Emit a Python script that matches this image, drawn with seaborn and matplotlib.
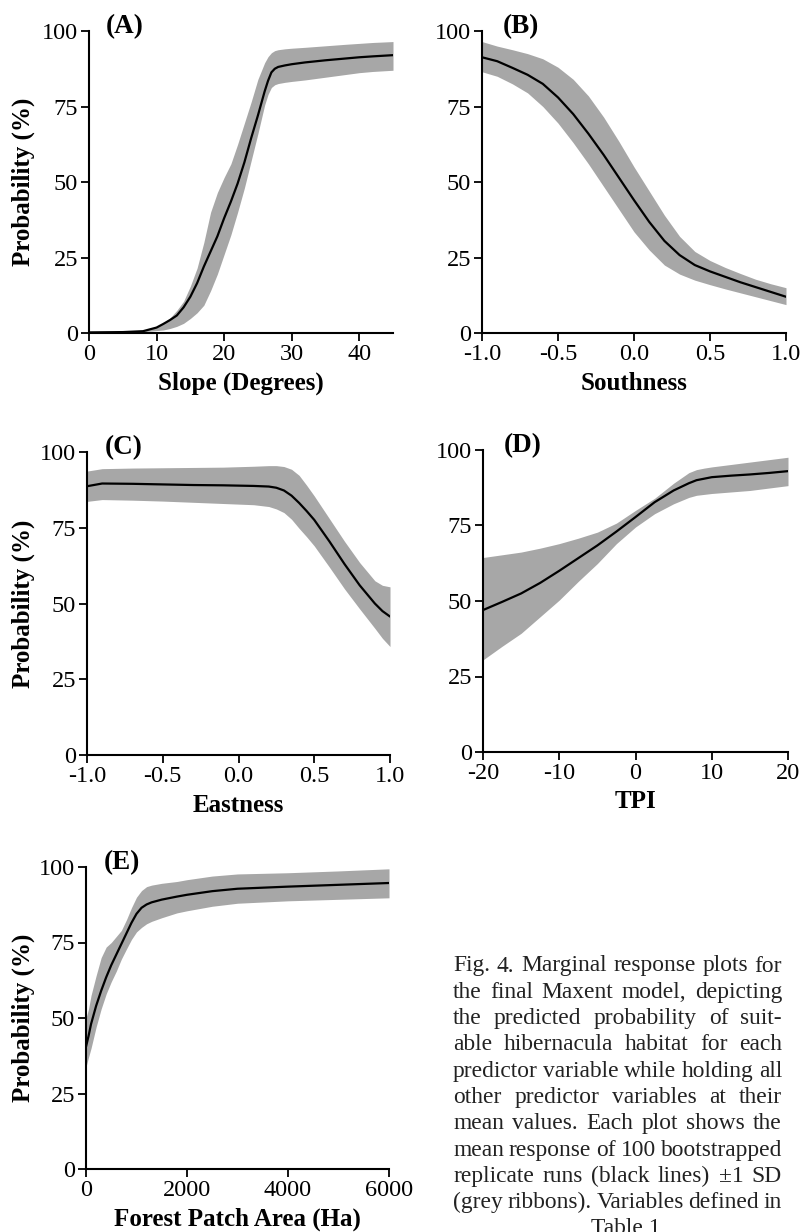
import numpy as np
import pandas as pd
import matplotlib
matplotlib.use("Agg")
import matplotlib.pyplot as plt
import seaborn as sns
from matplotlib.font_manager import FontProperties

# ---------------- data ----------------
slope_x = [0, 5, 8, 10, 11, 12, 13, 14, 15, 16, 17, 18, 19, 20, 21, 22, 23, 24, 25, 26, 26.5, 27, 27.5, 28, 29, 30, 32, 35, 38, 40, 42, 45]
slope_mean = [0.2, 0.3, 0.6, 1.8, 3, 4.3, 5.8, 8.5, 12, 16.5, 22, 27, 32, 38, 43.5, 49.5, 56.5, 64.5, 72, 80, 83.5, 86.3, 87.5, 88.1, 88.6, 89, 89.6, 90.3, 90.9, 91.3, 91.6, 92]
slope_upper = [0.3, 0.5, 0.8, 2.2, 3.3, 5, 7.5, 10.5, 15.5, 21.5, 30, 40, 46.5, 51.5, 56, 62.5, 69.5, 76.5, 84, 89.5, 91.5, 92.8, 93.5, 93.8, 94.1, 94.3, 94.6, 95.1, 95.6, 95.9, 96.2, 96.5]
slope_lower = [0.1, 0.2, 0.4, 0.8, 1, 1.5, 2.2, 3.2, 4.8, 6.7, 9.2, 14, 19.5, 26, 32.5, 40, 48, 57, 66, 75.5, 79, 81.3, 82.2, 82.6, 83, 83.3, 83.8, 84.7, 85.6, 86.2, 86.6, 87]

south_x = [-1.0, -0.9, -0.8, -0.7, -0.6, -0.5, -0.4, -0.3, -0.2, -0.1, 0.0, 0.1, 0.2, 0.3, 0.4, 0.5, 0.6, 0.7, 0.8, 0.9, 1.0]
south_mean = [91.3, 90, 87.8, 85.5, 82.5, 78, 72.5, 66, 59, 51.5, 44, 36.8, 30.5, 25.8, 22.5, 20.4, 18.6, 16.8, 15.2, 13.6, 12]
south_upper = [96.5, 95, 93.8, 92.5, 90.8, 88, 84, 78.5, 71.5, 63.5, 55, 47, 39, 32, 27, 24, 21.7, 19.7, 17.8, 16.3, 15]
south_lower = [86.5, 85, 82.5, 79.5, 75, 69.5, 63, 56, 48.5, 41, 33.5, 27.5, 22.5, 19.5, 17.5, 16, 14.6, 13.3, 12, 10.7, 9.4]

east_x = [-1.0, -0.9, -0.7, -0.5, -0.3, -0.1, 0.1, 0.2, 0.25, 0.3, 0.35, 0.4, 0.45, 0.5, 0.6, 0.7, 0.8, 0.9, 0.95, 1.0]
east_mean = [88.7, 89.6, 89.5, 89.3, 89.1, 89, 88.8, 88.6, 88.2, 87.3, 85.6, 83.2, 80.5, 77.6, 70.5, 63, 56, 50, 47.5, 45.7]
east_upper = [93.7, 94.5, 94.7, 94.8, 94.9, 95, 95.3, 95.5, 95.5, 95.2, 94.3, 92.3, 89, 85.5, 78, 70.5, 63.5, 57.5, 56, 55.5]
east_lower = [83.7, 84.3, 84.1, 83.8, 83.4, 83, 82.6, 82, 81.2, 80, 77.8, 74.8, 72, 69, 62, 54.8, 48.2, 41.8, 38.5, 35.8]

tpi_x = [-20, -17.5, -15, -12.5, -10, -7.5, -5, -2.5, 0, 2.5, 5, 7, 8, 9, 10, 12.5, 15, 17.5, 20]
tpi_mean = [47, 49.7, 52.5, 56, 60, 64.2, 68.4, 73, 77.8, 82.7, 86.6, 89, 90, 90.5, 91, 91.5, 91.9, 92.4, 93]
tpi_upper = [64.4, 65.3, 66.2, 67.5, 69, 70.8, 72.8, 75.8, 80, 84, 89, 92.5, 93.5, 94, 94.4, 95.2, 96, 96.8, 97.6]
tpi_lower = [30.5, 35, 39.3, 44.8, 50.3, 56.5, 62.4, 69, 74.5, 78.9, 82.2, 84.3, 85, 85.3, 85.6, 86.1, 86.6, 87.4, 88.2]

area_x = [0, 50, 100, 200, 300, 400, 500, 600, 700, 800, 900, 1000, 1100, 1200, 1300, 1500, 1800, 2000, 2500, 3000, 4000, 5000, 6000]
area_mean = [40.5, 44, 48, 54, 59, 63.5, 67.5, 71, 74.5, 78, 81.5, 84.5, 86.5, 87.6, 88.3, 89.2, 90.2, 90.8, 92, 92.8, 93.5, 94.1, 94.7]
area_upper = [50, 53, 57.5, 64, 70, 73.5, 75, 77, 79, 82.5, 86.5, 90, 92.2, 93.5, 94, 94.6, 95.2, 95.8, 97, 97.7, 98.1, 98.7, 99.4]
area_lower = [33.8, 37, 40, 47, 53, 58, 62, 65.5, 69.5, 72.8, 76, 78.5, 80, 81.2, 82, 83.2, 84.8, 85.5, 87, 88, 88.8, 89.3, 89.8]

panel_letters = ["(A)", "(B)", "(C)", "(D)", "(E)"]
x_labels = ["Slope (Degrees)", "Southness", "Eastness", "TPI", "Forest Patch Area (Ha)"]
y_label = "Probability (%)"
y_ticks = [0, 25, 50, 75, 100]
x_ticks = [[0, 10, 20, 30, 40], [-1.0, -0.5, 0.0, 0.5, 1.0], [-1.0, -0.5, 0.0, 0.5, 1.0],
           [-20, -10, 0, 10, 20], [0, 2000, 4000, 6000]]
x_ticklabels = [["0", "10", "20", "30", "40"], ["-1.0", "-0.5", "0.0", "0.5", "1.0"],
                ["-1.0", "-0.5", "0.0", "0.5", "1.0"], ["-20", "-10", "0", "10", "20"],
                ["0", "2000", "4000", "6000"]]
x_limits = [(0, 45), (-1, 1), (-1, 1), (-20, 20), (0, 6000)]

caption_lines = [
    "Fig. 4. Marginal response plots for",
    "the final Maxent model, depicting",
    "the predicted probability of suit-",
    "able hibernacula habitat for each",
    "predictor variable while holding all",
    "other predictor variables at their",
    "mean values. Each plot shows the",
    "mean response of 100 bootstrapped",
    "replicate runs (black lines) \u00b11 SD",
    "(grey ribbons). Variables defined in",
    "Table 1",
]

# ---------------- style ----------------
sns.set_style("ticks")
plt.rcParams["font.family"] = ["Liberation Serif", "DejaVu Serif"]
plt.rcParams["axes.unicode_minus"] = False

W, H = 801, 1232
fig = plt.figure(figsize=(W / 100, H / 100), dpi=100)

# axes boxes in pixel coords: left, right, top, bottom
boxes = [(89, 393, 31, 333), (482, 786, 31, 333), (87, 390, 452, 755),
         (483, 788, 450, 752), (86, 389, 867, 1169)]
datasets = [
    (slope_x, slope_mean, slope_lower, slope_upper),
    (south_x, south_mean, south_lower, south_upper),
    (east_x, east_mean, east_lower, east_upper),
    (tpi_x, tpi_mean, tpi_lower, tpi_upper),
    (area_x, area_mean, area_lower, area_upper),
]
letter_off = [17, 21, 18, 21, 18]
show_ylabel = [True, False, True, False, True]

for i, (box, data) in enumerate(zip(boxes, datasets)):
    l, r, t, b = box
    ax = fig.add_axes([l / W, 1 - b / H, (r - l) / W, (b - t) / H])
    x, m, lo, up = data
    df = pd.DataFrame({"x": x, "mean": m, "lo": lo, "up": up})
    ax.fill_between(df["x"], df["lo"], df["up"], color="#a7a7a7", linewidth=0, zorder=1)
    sns.lineplot(data=df, x="x", y="mean", ax=ax, color="black", linewidth=1.6, zorder=2)
    ax.set_xlim(*x_limits[i])
    ax.set_ylim(0, 100)
    ax.set_yticks(y_ticks)
    ax.set_yticklabels([str(v) for v in y_ticks])
    ax.set_xticks(x_ticks[i])
    ax.set_xticklabels(x_ticklabels[i])
    sns.despine(ax=ax)
    for s in ["left", "bottom"]:
        ax.spines[s].set_linewidth(1.5)
        ax.spines[s].set_color("black")
    ax.tick_params(axis="both", which="major", length=5.5, width=1.3, color="black",
                   labelsize=17.5, pad=2.5, labelcolor="black")
    ax.set_xlabel(x_labels[i], fontsize=18, fontweight="bold", color="black")
    ax.xaxis.label.set_va("center")
    ax.xaxis.set_label_coords(0.5, -50 / (b - t))
    if show_ylabel[i]:
        ax.set_ylabel(y_label, fontsize=18, fontweight="bold", color="black")
        ax.yaxis.label.set_va("center")
        ax.yaxis.set_label_coords(-(l - 23) / (r - l), 0.5)
    else:
        ax.set_ylabel("")
    ax.text(letter_off[i] / (r - l), 1 - 2 / (b - t), panel_letters[i], transform=ax.transAxes,
            fontsize=19.5, fontweight="bold", ha="left", va="baseline", color="black")
    ax.set_facecolor("white")

# ---------------- caption (justified) ----------------
fig.canvas.draw()
renderer = fig.canvas.get_renderer()
cap_left, cap_right = 453, 782
target = cap_right - cap_left
cap_family = "Liberation Serif"


def widths(words, fp):
    ws = [renderer.get_text_width_height_descent(w, fp, ismath=False)[0] for w in words]
    sp = renderer.get_text_width_height_descent("a a", fp, ismath=False)[0] - \
        renderer.get_text_width_height_descent("aa", fp, ismath=False)[0]
    return ws, sp


size = 15.0
fp = FontProperties(family=cap_family, size=size)
worst = 0
for line in caption_lines[:-1]:
    words = line.split(" ")
    ws, sp = widths(words, fp)
    nat = sum(ws) + sp * 0.75 * (len(words) - 1)
    worst = max(worst, nat / target)
size = size / worst
fp = FontProperties(family=cap_family, size=size)

base0, step = 971.5, 26.3
for k, line in enumerate(caption_lines):
    yb = base0 + k * step
    if k == len(caption_lines) - 1:
        fig.text(626 / W, 1 - yb / H, line, fontproperties=fp, ha="center", va="baseline", color="#222222")
        continue
    words = line.split(" ")
    ws, sp = widths(words, fp)
    gap = (target - sum(ws)) / (len(words) - 1)
    xpos = cap_left
    for w, wd in zip(words, ws):
        fig.text(xpos / W, 1 - yb / H, w, fontproperties=fp, ha="left", va="baseline", color="#222222")
        xpos += wd + gap

fig.savefig("out.png", dpi=100, facecolor="white")
